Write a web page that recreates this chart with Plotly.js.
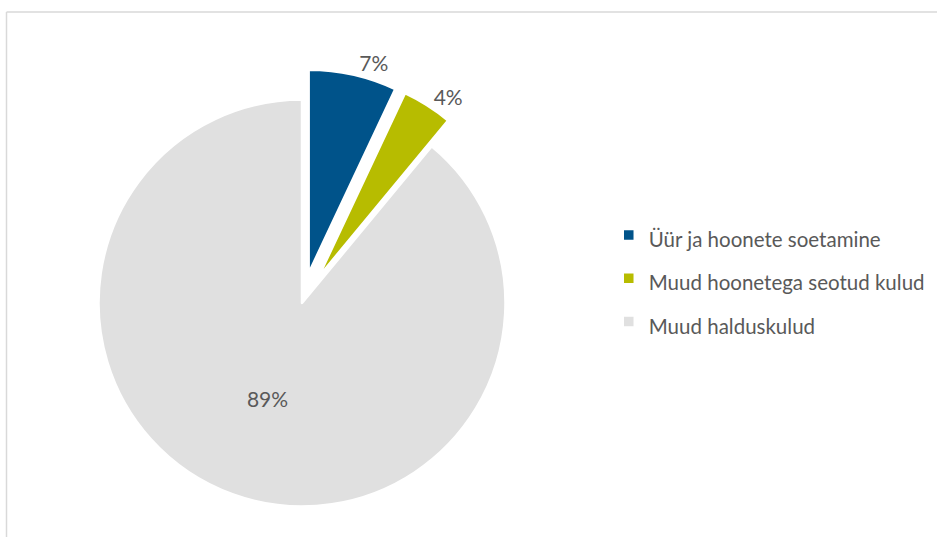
<!DOCTYPE html>
<html>
<head>
<meta charset="utf-8">
<script src="https://cdn.plot.ly/plotly-3.0.1.min.js"></script>
<style>html,body{margin:0;padding:0;background:#fff;}#chart{width:937px;height:537px;}</style>
</head>
<body>
<div id="chart"></div>
<script>
// Data
const categories = ['Üür ja hoonete soetamine', 'Muud hoonetega seotud kulud', 'Muud halduskulud'];
const shares = [7, 4, 89];
const sliceColors = ['#00538A', '#B7BC00', '#E0E0E0'];

const FONT = 'Lato, "Open Sans", sans-serif';
const TEXT_COLOR = '#595959';

const trace = {
  type: 'pie',
  labels: categories.map(c => '<span style="font-size:20.5px">' + c + '</span>'),
  values: shares,
  sort: false,
  direction: 'clockwise',
  rotation: 0,
  pull: [0.15, 0.15, 0],
  marker: { colors: sliceColors, line: { color: '#ffffff', width: 2.5 } },
  textinfo: 'percent',
  textposition: ['outside', 'outside', 'inside'],
  insidetextorientation: 'horizontal',
  textfont: { family: FONT, size: 21, color: TEXT_COLOR },
  outsidetextfont: { family: FONT, size: 21, color: TEXT_COLOR },
  insidetextfont: { family: FONT, size: 21, color: TEXT_COLOR },
  hoverinfo: 'skip',
  domain: { x: [68 / 937, 536 / 937], y: [0, 468 / 537] }
};

const layout = {
  width: 937,
  height: 537,
  margin: { l: 0, r: 0, t: 0, b: 0 },
  paper_bgcolor: '#ffffff',
  plot_bgcolor: '#ffffff',
  showlegend: true,
  legend: {
    x: 0.6497, xanchor: 'left',
    y: 0.612, yanchor: 'top',
    font: { family: FONT, size: 31, color: TEXT_COLOR },
    bgcolor: 'rgba(0,0,0,0)'
  },
  shapes: [
    { type: 'line', xref: 'paper', yref: 'paper', x0: 6.5 / 937, x1: 1.01, y0: 1 - 12 / 537, y1: 1 - 12 / 537,
      line: { color: '#D9D9D9', width: 1.5 } },
    { type: 'line', xref: 'paper', yref: 'paper', x0: 6.5 / 937, x1: 6.5 / 937, y0: -0.01, y1: 1 - 12 / 537,
      line: { color: '#D9D9D9', width: 1.5 } }
  ]
};

Plotly.newPlot('chart', [trace], layout, { displayModeBar: false, staticPlot: true });
</script>
</body>
</html>
